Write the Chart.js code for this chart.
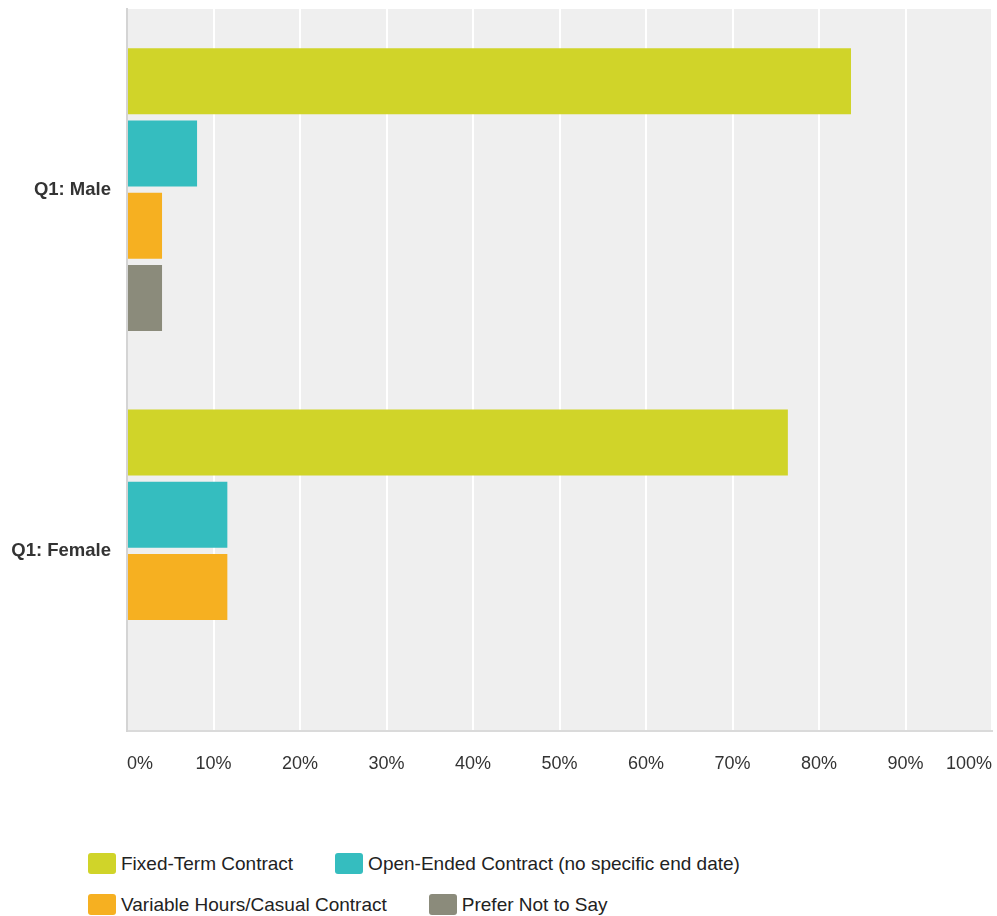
<!DOCTYPE html>
<html>
<head>
<meta charset="utf-8">
<script src="https://cdn.jsdelivr.net/npm/chart.js@4.4.1/dist/chart.umd.min.js"></script>
<style>
  body { margin: 0; background: #fff; font-family: "Liberation Sans", Arial, Helvetica, sans-serif; }
  #wrap { position: relative; width: 997px; height: 916px; }
  #chartBox { position: absolute; left: 0; top: 0; width: 997px; height: 800px; }
  #legend {
    position: absolute; left: 88px; top: 853px; width: 760px;
    display: flex; flex-wrap: wrap; row-gap: 20px;
  }
  .legend-item { display: flex; align-items: center; height: 21px; margin-right: 42px; }
  .legend-box { width: 28px; height: 21px; border-radius: 3px; margin-right: 5px; }
  .legend-text { font-size: 19px; color: #222; white-space: nowrap; }
</style>
</head>
<body>
<div id="wrap">
  <div id="chartBox"><canvas id="contractChart" width="997" height="800"></canvas></div>
  <div id="legend"></div>
</div>
<script>
const categories = ['Q1: Male', 'Q1: Female'];
const seriesNames = [
  'Fixed-Term Contract',
  'Open-Ended Contract (no specific end date)',
  'Variable Hours/Casual Contract',
  'Prefer Not to Say'
];
const fixedTerm = [83.7, 76.4];
const openEnded = [8.1, 11.6];
const variableHours = [4.05, 11.6];
const preferNot = [4.05, 0];
const xTicks = [0, 10, 20, 30, 40, 50, 60, 70, 80, 90, 100];

const seriesColors = ['#d0d429', '#35bdbf', '#f6b021', '#8b8b7b'];
const seriesValues = [fixedTerm, openEnded, variableHours, preferNot];

// grey plot background behind the bars
const plotBackground = {
  id: 'plotBackground',
  beforeDraw(chart) {
    const { ctx, chartArea } = chart;
    ctx.save();
    ctx.fillStyle = '#efefef';
    ctx.fillRect(chartArea.left, chartArea.top, chartArea.right - chartArea.left + 1, chartArea.bottom - chartArea.top);
    ctx.restore();
  }
};

// labels are allowed to sit at the very edges, so drop the extra edge padding
function noEdgePadding(axis) {
  axis.paddingLeft = 0;
  axis.paddingRight = 0;
  axis.paddingTop = 0;
  axis.paddingBottom = 0;
}

const datasets = seriesNames.map((name, i) => ({
  label: name,
  data: seriesValues[i],
  backgroundColor: seriesColors[i],
  borderWidth: 0,
  categoryPercentage: 0.8,
  barPercentage: 0.913
}));

new Chart(document.getElementById('contractChart'), {
  type: 'bar',
  data: { labels: categories, datasets },
  plugins: [plotBackground],
  options: {
    indexAxis: 'y',
    responsive: false,
    animation: false,
    layout: { padding: { top: 9, right: 5, bottom: 3, left: 0 } },
    plugins: {
      legend: { display: false },
      tooltip: { enabled: false }
    },
    scales: {
      x: {
        min: 0,
        max: 100,
        afterBuildTicks: axis => { axis.ticks = xTicks.map(v => ({ value: v })); },
        afterFit: noEdgePadding,
        grid: { color: '#ffffff', lineWidth: 2, drawTicks: false },
        border: { color: '#dadada', width: 2 },
        ticks: {
          align: 'inner',
          padding: 22,
          color: '#333',
          font: { family: '"Liberation Sans", Arial, sans-serif', size: 18 },
          callback: v => v + '%'
        }
      },
      y: {
        afterFit: axis => { noEdgePadding(axis); axis.width = 127; },
        grid: { display: false, drawTicks: false },
        border: { color: '#d4d4d4', width: 2 },
        ticks: {
          padding: 16,
          color: '#333',
          font: { family: '"Liberation Sans", Arial, sans-serif', size: 18.5, weight: 'bold' }
        }
      }
    }
  }
});

// legend laid out as a left-aligned flowing row
const legendEl = document.getElementById('legend');
legendEl.innerHTML = seriesNames.map((name, i) => `
  <div class="legend-item">
    <span class="legend-box" style="background:${seriesColors[i]}"></span>
    <span class="legend-text">${name}</span>
  </div>`).join('');
</script>
</body>
</html>
